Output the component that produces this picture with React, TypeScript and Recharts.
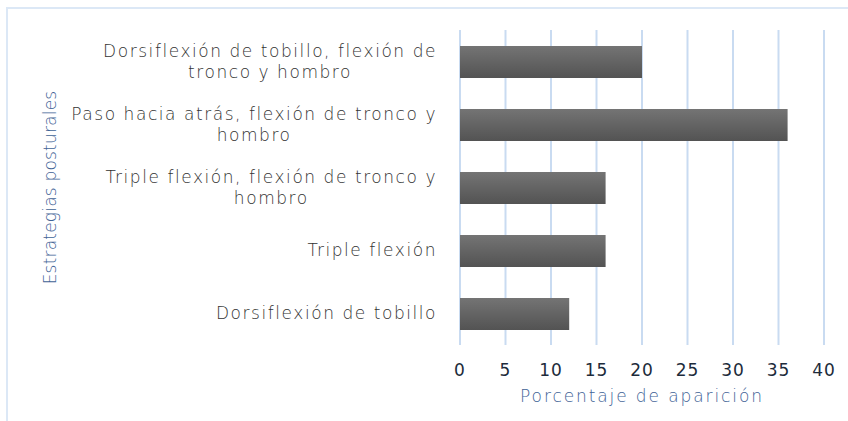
import { BarChart, Bar, XAxis, YAxis, CartesianGrid, Label } from 'recharts'

const categories = [
    'Dorsiflexión de tobillo, flexión de\ntronco y hombro',
    'Paso hacia atrás, flexión de tronco y\nhombro',
    'Triple flexión, flexión de tronco y\nhombro',
    'Triple flexión',
    'Dorsiflexión de tobillo',
]
const percentages = [20, 36, 16, 16, 12]
const xTicks = [0, 5, 10, 15, 20, 25, 30, 35, 40]

const FONT = '"DejaVu Sans", "Noto Sans", sans-serif'
const LABEL_SIZE = 17
const LABEL_SPACING = 1.55
const LABEL_WEIGHT = 200

const measure = (() => {
    let ctx: CanvasRenderingContext2D | null = null
    return (text: string) => {
        if (!ctx) {
            ctx = document.createElement('canvas').getContext('2d')
        }
        if (!ctx) return text.length * 9
        ctx.font = `${LABEL_WEIGHT} ${LABEL_SIZE}px ${FONT}`
        return ctx.measureText(text).width + text.length * LABEL_SPACING
    }
})()

const CategoryTick = ({ x, y, payload }: any) => {
    const lines = String(payload.value).split('\n')
    const blockWidth = Math.max(...lines.map(measure))
    const cx = x - blockWidth / 2
    const lineHeight = 21
    const startY = y - ((lines.length - 1) * lineHeight) / 2
    return (
        <text
            fontFamily={FONT}
            fontSize={LABEL_SIZE}
            fontWeight={LABEL_WEIGHT}
            letterSpacing={LABEL_SPACING}
            fill="#333333"
            textAnchor="middle"
        >
            {lines.map((line, i) => (
                <tspan key={i} x={cx} y={startY + i * lineHeight} dy="0.35em">
                    {line}
                </tspan>
            ))}
        </text>
    )
}

export default function App() {
    const data = categories.map((name, i) => ({ name, value: percentages[i] }))

    return (
        <div style={{ position: 'absolute', left: 0, top: 0, width: 848, height: 421, background: '#fff', overflow: 'hidden' }}>
            <div style={{ position: 'absolute', left: 6, top: 7, width: 900, height: 500, border: '2px solid #dce8f6' }} />
            <BarChart
                width={848}
                height={421}
                data={data}
                layout="vertical"
                margin={{ top: 30, right: 24, left: 0, bottom: 0 }}
                barCategoryGap={0}
            >
                <defs>
                    <linearGradient id="barFill" x1="0" y1="0" x2="0" y2="1">
                        <stop offset="0%" stopColor="#747474" />
                        <stop offset="100%" stopColor="#535353" />
                    </linearGradient>
                </defs>
                <CartesianGrid horizontal={false} stroke="#c9dbf1" strokeWidth={2} />
                <XAxis
                    type="number"
                    domain={[0, 40]}
                    ticks={xTicks}
                    interval={0}
                    height={76}
                    axisLine={false}
                    tickLine={false}
                    tickMargin={13}
                    tick={{ fill: '#1d2b3b', fontSize: 17, fontFamily: FONT, letterSpacing: 1 }}
                >
                    <Label
                        value="Porcentaje de aparición"
                        position="insideBottom"
                        offset={19}
                        style={{ fill: '#3f6396', fontSize: 17, fontFamily: FONT, fontWeight: LABEL_WEIGHT, letterSpacing: 1.9 }}
                    />
                </XAxis>
                <YAxis
                    dataKey="name"
                    type="category"
                    width={460}
                    axisLine={false}
                    tickLine={false}
                    tickMargin={17}
                    tick={<CategoryTick />}
                >
                    <Label
                        value="Estrategias posturales"
                        angle={-90}
                        position="insideLeft"
                        offset={50}
                        style={{ fill: '#3f6396', fontSize: 17, fontFamily: FONT, fontWeight: LABEL_WEIGHT, letterSpacing: 0.2, textAnchor: 'middle' }}
                    />
                </YAxis>
                <Bar dataKey="value" fill="url(#barFill)" barSize={32} isAnimationActive={false} />
            </BarChart>
        </div>
    )
}
